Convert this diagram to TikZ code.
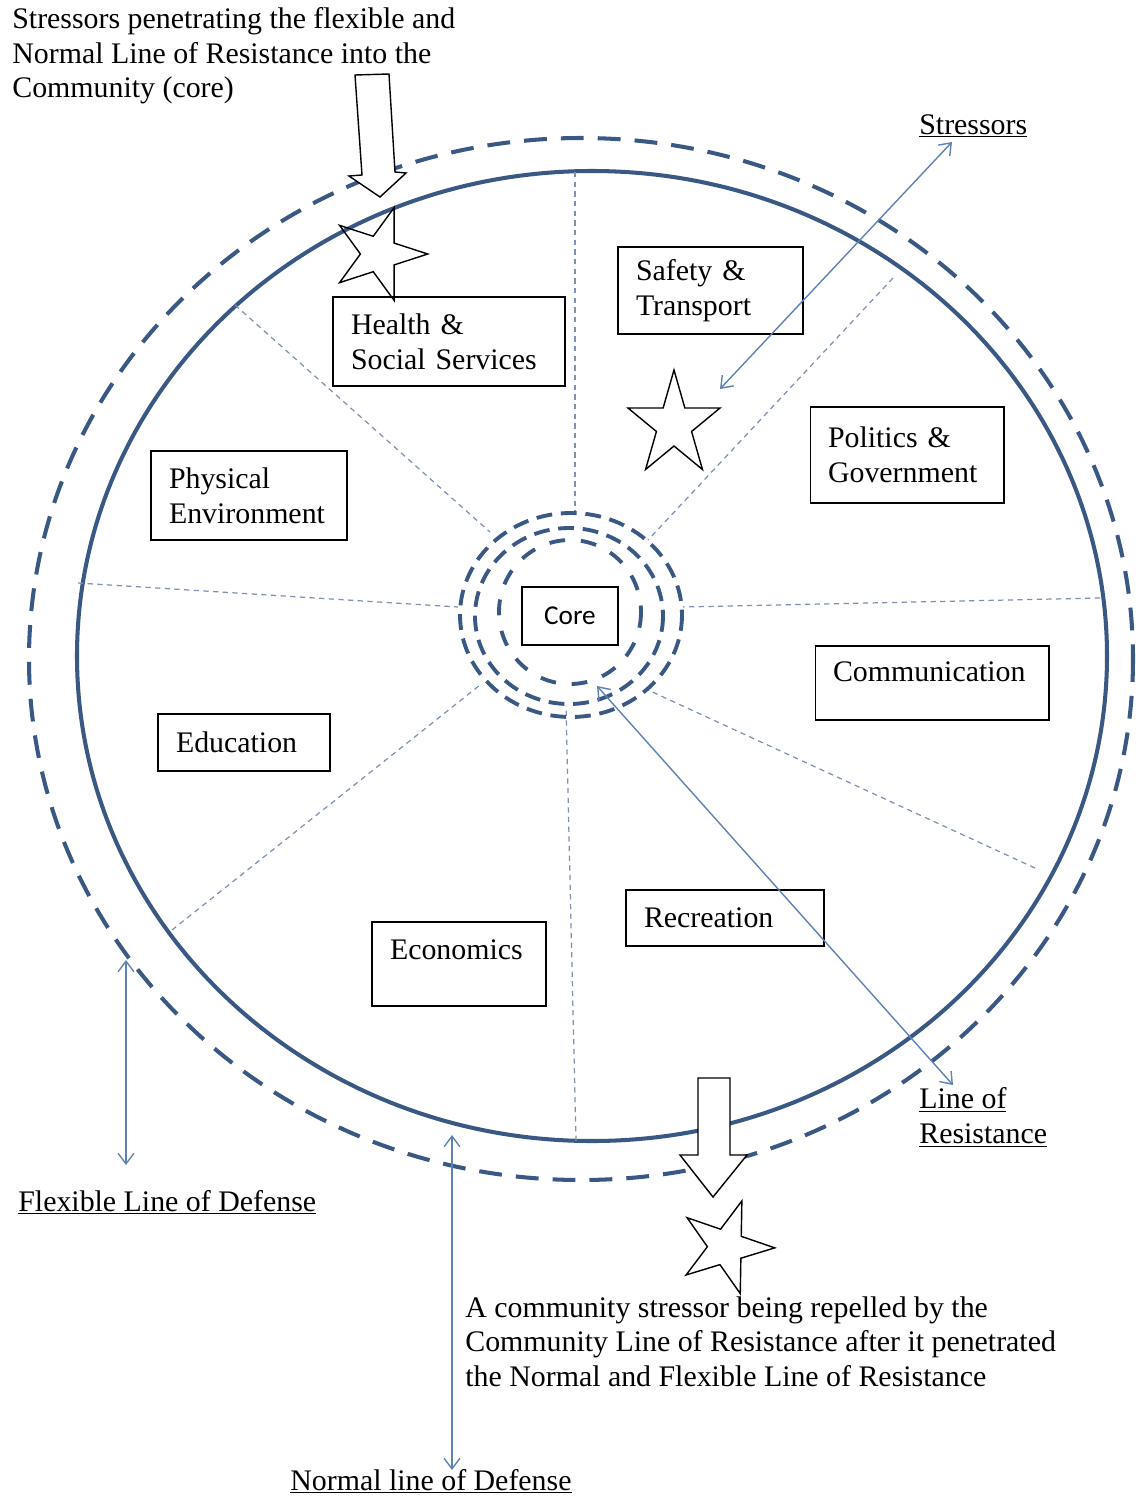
\documentclass[tikz,border=0pt]{standalone}
\usepackage{fontspec}
\setmainfont{Liberation Serif}
\newfontfamily\corefont{Carlito}
\usetikzlibrary{arrows.meta,shapes.geometric}
\definecolor{ringblue}{RGB}{58,88,132}
\definecolor{spokeblue}{RGB}{125,145,178}
\definecolor{pointerblue}{RGB}{95,130,180}
\newcommand{\lblfont}{\fontsize{17}{19.8}\selectfont}

\begin{document}
\begin{tikzpicture}[x=0.02cm,y=-0.02cm,
  ring/.style={draw=ringblue, line width=2.3pt},
  ringdash/.style={ring, dash pattern=on 13pt off 8pt},
  coredash/.style={draw=ringblue, line width=2.2pt, dash pattern=on 9pt off 5pt},
  spoke/.style={draw=spokeblue, line width=0.7pt, dash pattern=on 3pt off 2.5pt},
  pointer/.style={draw=pointerblue, line width=0.8pt,
    {Straight Barb[length=6pt,width=9pt]}-{Straight Barb[length=6pt,width=9pt]}},
  box/.style={draw=black, line width=0.6pt, fill=white, font=\lblfont,
    align=left, inner xsep=0.36cm, inner ysep=0pt},
  lbl/.style={font=\lblfont, align=left, inner sep=0pt},
  stressor/.style={star, star points=5, star point ratio=2.618, draw=black,
    line width=0.8pt, inner sep=0pt, minimum size=1.95cm},
  blockarrow/.style={draw=black, line width=0.8pt, fill=white, line join=miter},
]
\path[use as bounding box] (0,0) rectangle (1138,1498);

% community boundary lines
\draw[ringdash] (581,659) ellipse [x radius=552, y radius=521];
\draw[ring] (592,656) ellipse [x radius=515, y radius=485];

% subsystem dividers
\draw[spoke] (575,172) -- (575,512);
\draw[spoke] (893,278) -- (648,540);
\draw[spoke] (1100,598) -- (683,607);
\draw[spoke] (1035,868) -- (648,690);
\draw[spoke] (576,1141) -- (566,706);
\draw[spoke] (172,930) -- (480,685);
\draw[spoke] (78,583) -- (458,607);
\draw[spoke] (235,305) -- (490,532);

% lines around the core
\draw[coredash] (571,615) ellipse [x radius=111, y radius=102];
\draw[coredash] (569,616) ellipse [x radius=94, y radius=88];
\draw[coredash, dash pattern=on 9pt off 9pt] (570,612) ellipse [x radius=71, y radius=72];

\node[draw=black, line width=0.6pt, fill=white, minimum width=1.92cm,
  minimum height=1.16cm, inner sep=0pt,
  font=\corefont\fontsize{15.5}{17}\selectfont] (core) at (570,616) {Core};

% subsystems
\node[box, text width=3.92cm, minimum height=1.78cm] (health) at (449,341.5) {Health \&\\Social Services};
\node[box, text width=2.98cm, minimum height=1.74cm] (safety) at (710.5,290.5) {Safety \&\\Transport};
\node[box, text width=3.16cm, minimum height=1.92cm] (politics) at (907,455) {Politics \&\\Government};
\node[box, text width=3.20cm, minimum height=1.78cm] (physical) at (249,495.5) {Physical\\Environment};
\node[box, text width=3.96cm, minimum height=1.48cm, text depth=0.45cm] (communication) at (932,683) {Communication};
\node[box, text width=2.72cm, minimum height=1.14cm] (education) at (244,742.5) {Education};
\node[box, text width=2.76cm, minimum height=1.68cm, text depth=0.56cm] (economics) at (459,964) {Economics};
\node[box, text width=3.24cm, minimum height=1.12cm] (recreation) at (725,918) {Recreation};

% stressors
\node[stressor, rotate=-18] (starTop) at (379,254) {};
\node[stressor, minimum size=2.2cm, xscale=0.88, transform shape] (starMid) at (674,425) {};
\node[stressor, rotate=-19] (starLow) at (726,1247) {};

\draw[blockarrow] (355,75) -- (389,74) -- (395,172) -- (406,173) -- (380,197)
  -- (349,176) -- (362,175) -- cycle;
\draw[blockarrow] (698,1078) -- (730,1078) -- (730,1155) -- (747,1155) -- (713,1197)
  -- (680,1155) -- (698,1155) -- cycle;

% pointers
\coordinate (stressTip) at (952,142);
\coordinate (stressEnd) at (720,389);
\coordinate (resCore) at (597,686);
\coordinate (resTip) at (953,1085);
\coordinate (flexTop) at (126,960);
\coordinate (flexBot) at (126,1165);
\coordinate (normTop) at (452,1135);
\coordinate (normBot) at (452,1470);
\draw[pointer] (stressEnd) -- (stressTip);
\draw[pointer] (resCore) -- (resTip);
\draw[pointer] (flexTop) -- (flexBot);
\draw[pointer] (normTop) -- (normBot);

% labels
\node[lbl, anchor=north west] (topNote) at (12,7)
  {Stressors penetrating the flexible and\\Normal Line of Resistance into the\\Community (core)};
\node[lbl, anchor=base west] (stressLbl) at (919,134) {\underline{Stressors}};
\node[lbl, anchor=north west] (resLbl) at (919,1087) {\underline{Line of}\\\underline{Resistance}};
\node[lbl, anchor=base west] (flexLbl) at (18,1211) {\underline{Flexible Line of Defense}};
\node[lbl, anchor=base west] (normLbl) at (290,1490) {\underline{Normal line of Defense}};
\node[lbl, anchor=north west] (repelNote) at (465,1296)
  {A community stressor being repelled by the\\Community Line of Resistance after it penetrated\\the Normal and Flexible Line of Resistance};
\end{tikzpicture}
\end{document}
